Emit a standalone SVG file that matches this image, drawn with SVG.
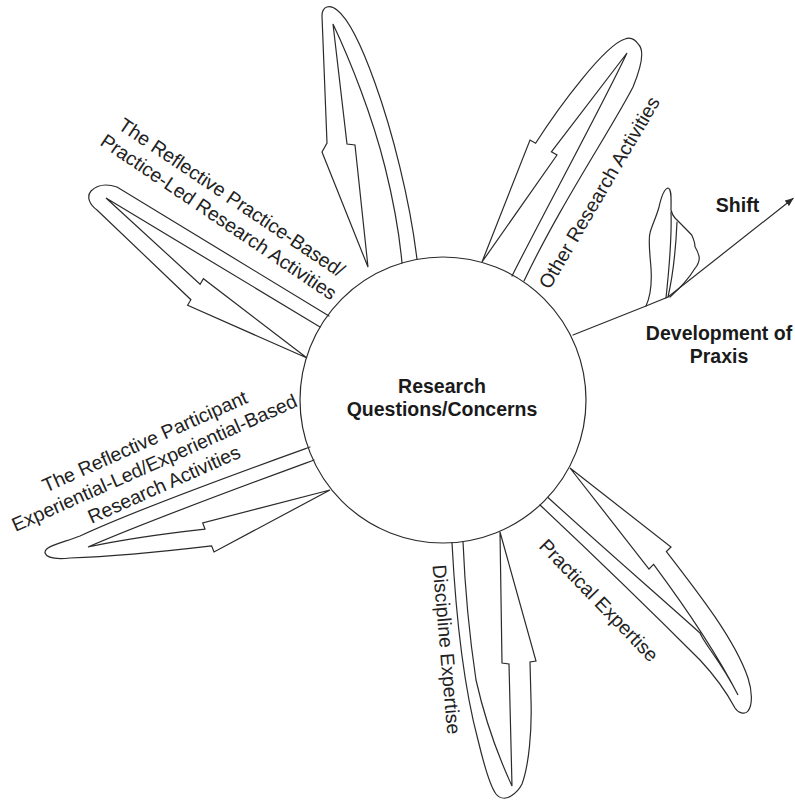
<svg xmlns="http://www.w3.org/2000/svg" width="795" height="800" viewBox="0 0 795 800">
<defs>
<style>
.ln{fill:none;stroke:#2b2b2b;stroke-width:1.2;stroke-linejoin:miter;stroke-linecap:round;}
.lbl{font-family:"Liberation Sans",Arial,Helvetica,sans-serif;font-size:19.5px;fill:#222;}
.bold{font-family:"Liberation Sans",Arial,Helvetica,sans-serif;font-size:19.5px;font-weight:bold;fill:#1a1a1a;}
</style>
<marker id="ah" viewBox="0 0 10 8" refX="9" refY="4" markerWidth="9" markerHeight="7" markerUnits="userSpaceOnUse" orient="auto">
<path d="M0,0 L10,4 L0,8 z" fill="#2b2b2b"/>
</marker>
</defs>
<rect width="795" height="800" fill="#ffffff"/>

<g id="connectors">
<g id="loop-top">
<path class="ln" d="M417,259.5 C410,200 392,130 375,83 C365,55 350,20 337,10 C330,4 322,6 322,16 L327,143 L322,152 L368,267 L355,145 L347,144 L333,24 C350,60 372,115 385,167 C392,195 399,230 402,263"/>
</g>
<g id="loop-other">
<path class="ln" d="M524,281 C560,205 612,128 633,87 C640,70 645,52 639,45 C635,39 630,37 625,39 C605,45 560,105 535.6,143.2 L530,140 L482,262 L557,155 L551.4,151.8 L627,53 C600,110 540,220 512,276"/>
</g>
<g id="loop-practice">
<path class="ln" d="M329,316 L117,187 C108,184 98,184 91,191 C86,197 90,205 97,210 L190.9,299.7 L187.6,305.3 L307,358 L203.4,278.7 L200.1,284.3 L106,198 L320,327"/>
</g>
<g id="loop-participant">
<path class="ln" d="M310,447 C260,465 140,508 80,536 C62,543 44,546 45,553 C47,559 60,559 70,558 C100,557 160,552 211.6,545.9 L214,552 L330,490 L202.7,523 L205,529.1 C170,533 120,540 88,547 C150,520 265,478 314,460"/>
</g>
<g id="loop-discipline">
<path class="ln" d="M452,542.7 C455,600 462,680 478,740 C484,765 490,786 496,794 C500,799 506,799 511,796 C516,793 520,788 522,784 C529,765 532,730 531,700 L530,662 L536,661 L500,532 L502,663 L509,664 C510,700 511,750 512,786 C500,760 485,720 476,680 C470,640 465,590 463,541.6"/>
</g>
<g id="loop-practical">
<path class="ln" d="M540,505 C590,552 660,620 700,660 C715,676 728,695 735,708 C738,713 745,715 748,711 C753,705 752,690 748,678 C735,640 700,595 666.4,551.6 L671,547 L570,468 L649,569 L653.6,564.4 C680,600 715,650 738,695 C720,660 705,645 700,633 C660,597 600,545 548,497.5"/>
</g>
<g id="shift-line">
<path class="ln" d="M573,335 L646,306 L668,297 L793,198.5" marker-end="url(#ah)"/>
<path class="ln" d="M646,306 C651,295 652,283 651,268 C650,255 648,240 650,233 C652,225 656,218 659,207 C661,198 664,189 668,188 C672,189 671,200 671,210 C672,214 674,217 675,218 C680,223 686,229 691.7,235 C694,240 695,244 695,246.7 C697,250 699,255 699.3,258.3 C699,262 698,265 695,268.3 C688,280 678,290 670,297"/>
<path class="ln" d="M671,212 C672,240 669,270 666,298"/>
<path class="ln" d="M677,222 C676,245 673,275 668,297"/>
</g>
</g>

<g id="center-node">
<circle cx="443" cy="400" r="143" class="ln" fill="#fff"/>
<text class="bold" x="442" y="392.5" text-anchor="middle">Research</text>
<text class="bold" x="442" y="415.5" text-anchor="middle">Questions/Concerns</text>
</g>

<g id="label-practice">
<text class="lbl" text-anchor="middle" transform="translate(228,203) rotate(34)"><tspan x="0" y="0">The Reflective Practice-Based/</tspan><tspan x="0" y="23.5">Practice-Led Research Activities</tspan></text>
</g>
<g id="label-participant">
<text class="lbl" text-anchor="middle" transform="translate(147.5,447.5) rotate(-24)"><tspan x="0" y="0">The Reflective Participant</tspan><tspan x="0" y="23.5">Experiential-Led/Experiential-Based</tspan><tspan x="0" y="47">Research Activities</tspan></text>
</g>
<g id="label-other">
<text class="lbl" text-anchor="middle" transform="translate(605,196) rotate(-59.5)">Other Research Activities</text>
</g>
<g id="label-discipline">
<text class="lbl" text-anchor="middle" transform="translate(440,650) rotate(85)">Discipline Expertise</text>
</g>
<g id="label-practical">
<text class="lbl" text-anchor="middle" transform="translate(594,605) rotate(46)">Practical Expertise</text>
</g>
<g id="label-shift">
<text class="bold" x="737.5" y="212" text-anchor="middle">Shift</text>
</g>
<g id="label-praxis">
<text class="bold" x="719" y="340" text-anchor="middle">Development of</text>
<text class="bold" x="719" y="363" text-anchor="middle">Praxis</text>
</g>
</svg>
